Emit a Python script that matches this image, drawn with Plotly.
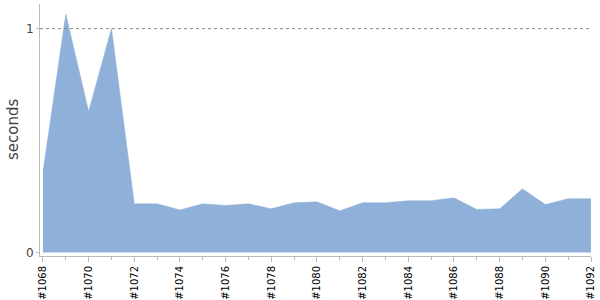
import plotly.graph_objects as go

builds = list(range(1068, 1093))
seconds = [0.36, 1.065, 0.63, 1.0, 0.217, 0.217, 0.19, 0.217, 0.21, 0.217, 0.195, 0.222,
           0.226, 0.186, 0.222, 0.222, 0.231, 0.231, 0.244, 0.192, 0.195, 0.284, 0.214, 0.24, 0.24]
tick_vals = builds[::2]
tick_text = ["#%d" % b for b in tick_vals]

fig = go.Figure()
fig.add_trace(go.Scatter(x=builds, y=seconds, mode="lines", fill="tozeroy",
                         line=dict(color="#8fb0d9", width=0.5), fillcolor="#8fb0d9",
                         hoverinfo="skip"))
fig.add_hline(y=1, line=dict(color="#888", width=1, dash="dot"), layer="above")

fig.update_layout(
    width=600, height=300,
    margin=dict(l=40, r=9, t=4, b=44, autoexpand=False),
    paper_bgcolor="white", plot_bgcolor="white",
    showlegend=False,
    font=dict(family="DejaVu Sans", color="#444"),
)
fig.add_annotation(text="seconds", xref="paper", yref="paper", x=-0.049, y=0.5,
                   xanchor="center", yanchor="middle", textangle=-90, showarrow=False,
                   font=dict(size=15, color="#444"))
fig.update_xaxes(range=[1067.87, 1092], tickvals=tick_vals, ticktext=tick_text,
                 tickangle=-90, tickfont=dict(size=10, color="#000"),
                 showgrid=False, zeroline=False, showline=True, linecolor="#bbb",
                 ticks="outside", ticklen=5, tickcolor="#bbb", automargin=False,
                 minor=dict(dtick=1, tick0=1068, ticks="outside", ticklen=3, tickcolor="#bbb"))
fig.update_yaxes(range=[-0.016, 1.11], tickvals=[0, 1], ticktext=["0", "1"],
                 tickfont=dict(size=12, color="#444"), automargin=False,
                 showgrid=False, zeroline=False, showline=True, linecolor="#bbb",
                 ticks="outside", ticklen=3, tickcolor="#bbb")

fig.write_html("out.html")
